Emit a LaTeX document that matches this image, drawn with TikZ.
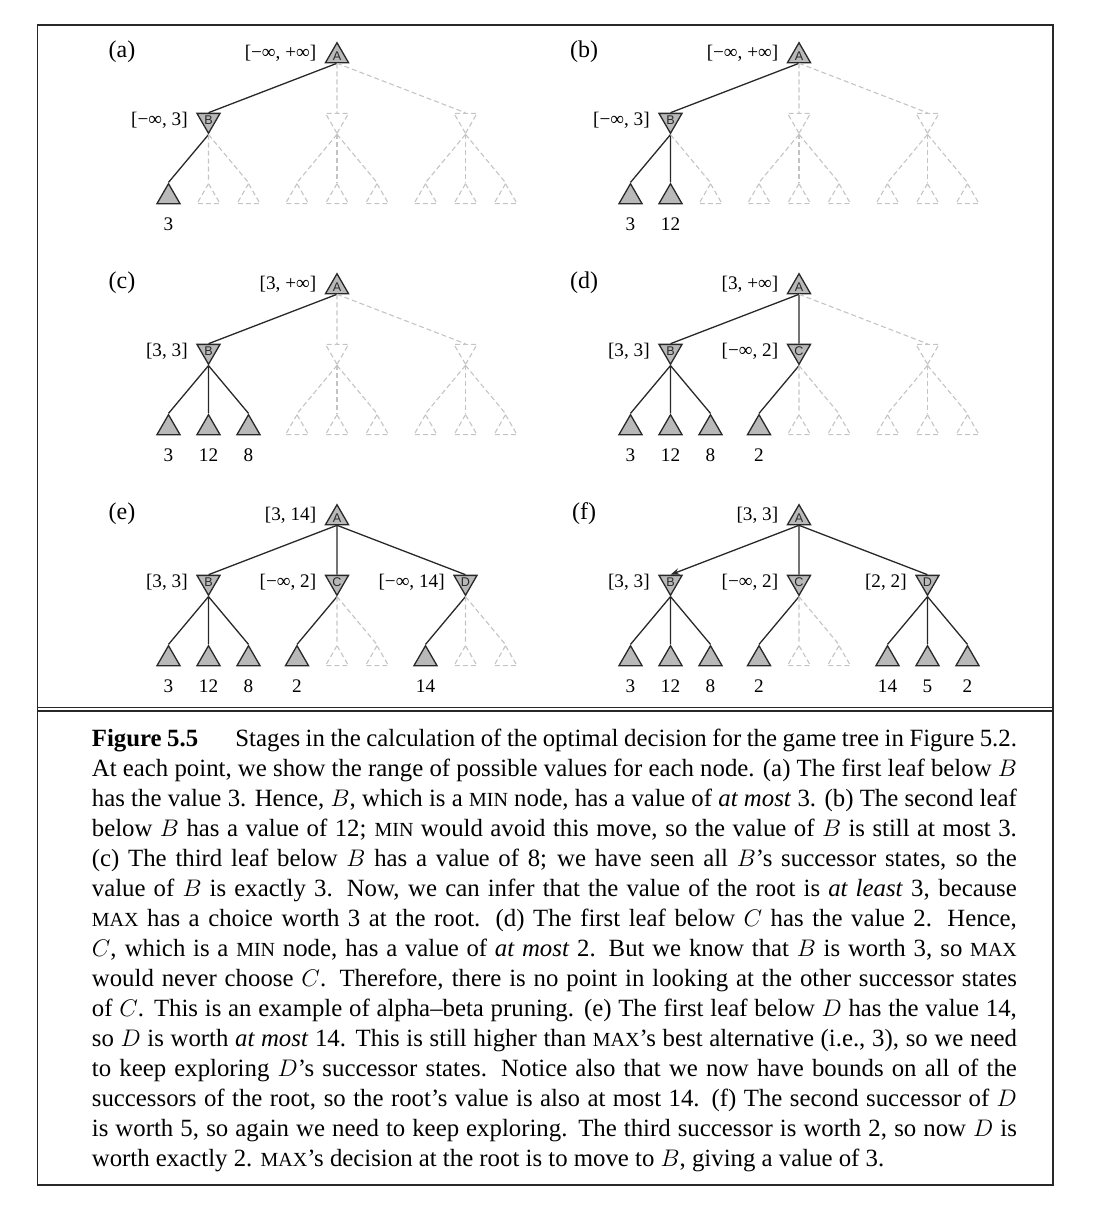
\documentclass[tikz,border=0pt]{standalone}
\usepackage{fontspec}
\setmainfont{Liberation Serif}
\newfontfamily\trifont{Liberation Sans}
\usetikzlibrary{arrows.meta,positioning,shapes.geometric}

\definecolor{ink}{RGB}{40,40,40}
\definecolor{shade}{RGB}{185,185,185}
\definecolor{ghost}{RGB}{196,196,196}

\def\seenkey{seen}
\newcommand{\smcaps}[1]{{\fontsize{10}{15}\selectfont #1}}

% one stage: #1 panel, #2 shift, #3 bounds at A, #4 B/C/D, #5 leaves
\newcommand{\stagetree}[5]{%
  \begin{scope}[shift={#2}]
    \node[paneltag] (#1-tag) at (122,52) {(#1)};
    \node[maxnode, seen] (#1-A) at (337,56) {A};
    \node[bounds, left=6pt of #1-A, yshift=1.5pt] (#1-A-bd) {#3};
    \foreach \nd/\px/\st/\ed/\bd in {#4} {
      \edef\curstate{\st}
      \node[minnode, \st] (#1-\nd) at (\px,120) {\ifx\curstate\seenkey\nd\fi};
      \draw[\ed] (#1-A.south) -- (#1-\nd.north);
      \ifx\curstate\seenkey
        \node[bounds, left=6pt of #1-\nd] (#1-\nd-bd) {\bd};
      \fi
    }
    \foreach \pa/\kk/\st/\sv in {#5} {
      \edef\curstate{\st}
      \path (#1-\pa) ++({40*\kk-80},77) node[leafnode, \st] (#1-\pa\kk) {};
      \draw[\st] (#1-\pa.south) -- (#1-\pa\kk.north);
      \ifx\curstate\seenkey
        \node[score, below=6.5pt of #1-\pa\kk] (#1-\pa\kk-sv) {\sv};
      \fi
    }
  \end{scope}
}

\begin{document}
\begin{tikzpicture}[
    x=0.5pt, y=-0.5pt,
    seen/.style={draw=ink, solid, line width=0.65pt},
    unseen/.style={draw=ghost, dash pattern=on 2.5pt off 1.5pt, fill=none, line width=0.55pt},
    chosen/.style={seen, -{Stealth[length=4.5pt, width=3.2pt]}},
    tri/.style={regular polygon, regular polygon sides=3, minimum size=13.3pt,
                inner sep=0pt, fill=shade, text=ink,
                font=\trifont\fontsize{6.3}{6.3}\selectfont},
    maxnode/.style={tri},
    minnode/.style={tri, shape border rotate=180},
    leafnode/.style={tri},
    bounds/.style={inner sep=0pt, font=\fontsize{9.6}{11}\selectfont},
    score/.style={inner sep=0pt, font=\fontsize{9.6}{11}\selectfont},
    paneltag/.style={inner sep=0pt, font=\fontsize{12}{14}\selectfont},
    boxline/.style={draw=ink, line width=0.7pt},
    captext/.style={inner sep=0pt, text width=462.5pt, align=justify,
                    font=\fontsize{12.4}{15}\selectfont}
  ]
  \useasboundingbox (0,0) rectangle (1098,1215);

  \stagetree{a}{(0,0)}{[−∞, +∞]}
    {B/208.5/seen/seen/{[−∞, 3]}, C/337/unseen/unseen/-, D/465.5/unseen/unseen/-}
    {B/1/seen/3, B/2/unseen/-, B/3/unseen/-, C/1/unseen/-, C/2/unseen/-,
     C/3/unseen/-, D/1/unseen/-, D/2/unseen/-, D/3/unseen/-}
  \stagetree{b}{(462,0)}{[−∞, +∞]}
    {B/208.5/seen/seen/{[−∞, 3]}, C/337/unseen/unseen/-, D/465.5/unseen/unseen/-}
    {B/1/seen/3, B/2/seen/12, B/3/unseen/-, C/1/unseen/-, C/2/unseen/-,
     C/3/unseen/-, D/1/unseen/-, D/2/unseen/-, D/3/unseen/-}
  \stagetree{c}{(0,231)}{[3, +∞]}
    {B/208.5/seen/seen/{[3, 3]}, C/337/unseen/unseen/-, D/465.5/unseen/unseen/-}
    {B/1/seen/3, B/2/seen/12, B/3/seen/8, C/1/unseen/-, C/2/unseen/-,
     C/3/unseen/-, D/1/unseen/-, D/2/unseen/-, D/3/unseen/-}
  \stagetree{d}{(462,231)}{[3, +∞]}
    {B/208.5/seen/seen/{[3, 3]}, C/337/seen/seen/{[−∞, 2]}, D/465.5/unseen/unseen/-}
    {B/1/seen/3, B/2/seen/12, B/3/seen/8, C/1/seen/2, C/2/unseen/-,
     C/3/unseen/-, D/1/unseen/-, D/2/unseen/-, D/3/unseen/-}
  \stagetree{e}{(0,462)}{[3, 14]}
    {B/208.5/seen/seen/{[3, 3]}, C/337/seen/seen/{[−∞, 2]}, D/465.5/seen/seen/{[−∞, 14]}}
    {B/1/seen/3, B/2/seen/12, B/3/seen/8, C/1/seen/2, C/2/unseen/-,
     C/3/unseen/-, D/1/seen/14, D/2/unseen/-, D/3/unseen/-}
  \stagetree{f}{(462,462)}{[3, 3]}
    {B/208.5/seen/chosen/{[3, 3]}, C/337/seen/seen/{[−∞, 2]}, D/465.5/seen/seen/{[2, 2]}}
    {B/1/seen/3, B/2/seen/12, B/3/seen/8, C/1/seen/2, C/2/unseen/-,
     C/3/unseen/-, D/1/seen/14, D/2/seen/5, D/3/seen/2}

  % frame and rule above the caption
  \draw[boxline] (37.5,25) rectangle (1053,1185);
  \draw[boxline] (37.5,707.5) -- (1053,707.5);
  \draw[boxline] (37.5,711) -- (1053,711);

  \node[captext, anchor=base west] (caption) at (91.5,746) {%
    {\bfseries Figure 5.5}\hspace{1.5em}Stages in the calculation of the optimal decision for the game tree in Figure 5.2.\linebreak
    At each point, we show the range of possible values for each node. (a) The first leaf below $B$\linebreak
    has the value 3. Hence, $B$, which is a \smcaps{MIN} node, has a value of \textit{at most} 3. (b) The second leaf\linebreak
    below $B$ has a value of 12; \smcaps{MIN} would avoid this move, so the value of $B$ is still at most 3.\linebreak
    (c) The third leaf below $B$ has a value of 8; we have seen all $B$'s successor states, so the\linebreak
    value of $B$ is exactly 3. Now, we can infer that the value of the root is \textit{at least} 3, because\linebreak
    \smcaps{MAX} has a choice worth 3 at the root. (d) The first leaf below $C$ has the value 2. Hence,\linebreak
    $C$, which is a \smcaps{MIN} node, has a value of \textit{at most} 2. But we know that $B$ is worth 3, so \smcaps{MAX}\linebreak
    would never choose $C$. Therefore, there is no point in looking at the other successor states\linebreak
    of $C$. This is an example of alpha--beta pruning. (e) The first leaf below $D$ has the value 14,\linebreak
    so $D$ is worth \textit{at most} 14. This is still higher than \smcaps{MAX}'s best alternative (i.e., 3), so we need\linebreak
    to keep exploring $D$'s successor states. Notice also that we now have bounds on all of the\linebreak
    successors of the root, so the root's value is also at most 14. (f) The second successor of $D$\linebreak
    is worth 5, so again we need to keep exploring. The third successor is worth 2, so now $D$ is\linebreak
    worth exactly 2. \smcaps{MAX}'s decision at the root is to move to $B$, giving a value of 3.};
\end{tikzpicture}
\end{document}
